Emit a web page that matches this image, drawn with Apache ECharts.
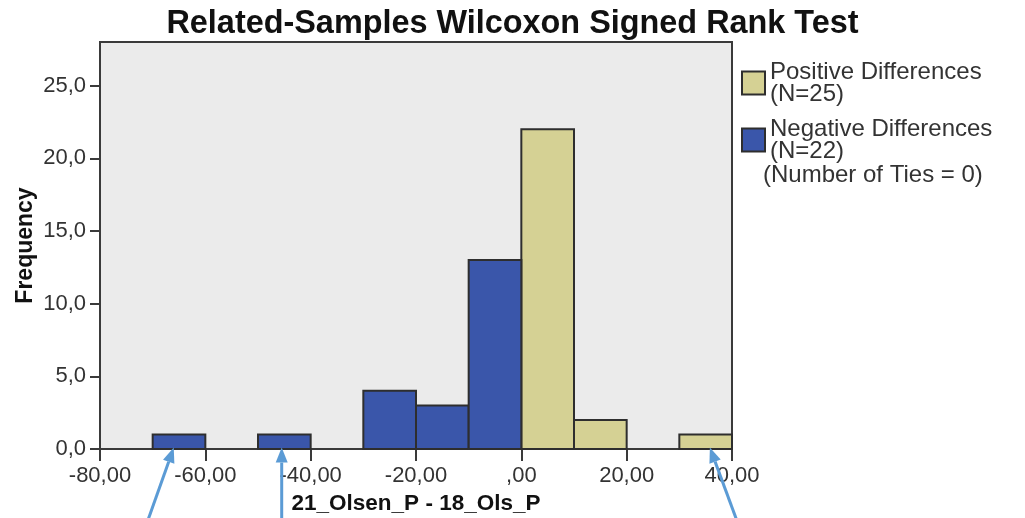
<!DOCTYPE html>
<html>
<head>
<meta charset="utf-8">
<script src="https://cdn.jsdelivr.net/npm/echarts@6/dist/echarts.min.js"></script>
<style>
  html, body { margin: 0; padding: 0; background: #fff; }
  #chart { width: 1025px; height: 518px; }
</style>
</head>
<body>
<div id="chart"></div>
<script>
// Histogram of paired differences (21_Olsen_P - 18_Ols_P), bin width 10
const binWidth = 10;
const negBinStarts = [-70, -50, -30, -20, -10];
const negCounts = [1, 1, 4, 3, 13];
const posBinStarts = [0, 10, 30];
const posCounts = [22, 2, 1];
const tiesCount = 0;

const yTicks = [0, 5, 10, 15, 20, 25];

// arrows pointing at the isolated bins: [tailX, tailY] -> [headX, headY] in data units
const arrowPairs = [
  [[-70.9, -4.9], [-66, 0.1]],
  [[-45.5, -4.9], [-45.5, 0.1]],
  [[40.9, -4.9], [35.8, 0.1]]
];

const posColor = '#d5d194';
const negColor = '#3a56aa';
const edgeColor = '#2e2e2e';
const textColor = '#333';

const sum = a => a.reduce((s, v) => s + v, 0);
const nPos = sum(posCounts);
const nNeg = sum(negCounts);

const posName = 'Positive Differences\n(N=' + nPos + ')';
const negName = 'Negative Differences\n(N=' + nNeg + ')';

function binData(starts, counts) {
  return starts.map((s, i) => [s, s + binWidth, counts[i]]);
}

function renderBin(params, api) {
  const p0 = api.coord([api.value(0), api.value(2)]);
  const p1 = api.coord([api.value(1), 0]);
  return {
    type: 'rect',
    shape: { x: p0[0], y: p0[1], width: p1[0] - p0[0], height: p1[1] - p0[1] },
    style: api.style({ stroke: edgeColor, lineWidth: 2 })
  };
}

function fmtX(v) {
  const s = Math.abs(v).toFixed(2).replace('.', ',');
  const t = Math.abs(v) < 1e-9 ? s.replace(/^0/, '') : s;
  return (v < 0 ? '-' : '') + t;
}

const chart = echarts.init(document.getElementById('chart'));
const baseFont = "'Liberation Sans', Arial, sans-serif";

chart.setOption({
  animation: false,
  title: {
    text: 'Related-Samples Wilcoxon Signed Rank Test',
    left: 'center',
    top: 3,
    textStyle: { fontFamily: baseFont, fontWeight: 'bold', fontSize: 32.4, color: '#111' }
  },
  legend: {
    orient: 'vertical',
    left: 736,
    top: 55,
    itemWidth: 23,
    itemHeight: 23,
    itemGap: 11,
    icon: 'rect',
    selectedMode: false,
    data: [posName, negName],
    textStyle: { fontFamily: baseFont, fontSize: 24, lineHeight: 22, color: textColor },
    itemStyle: { borderColor: edgeColor, borderWidth: 2 }
  },
  grid: {
    left: 100, right: 293, top: 42, bottom: 69,
    outerBoundsMode: 'none',
    show: true,
    backgroundColor: '#ebebeb',
    borderColor: '#3a3a3a',
    borderWidth: 2
  },
  xAxis: {
    type: 'value',
    min: -80, max: 40, interval: 20,
    name: '21_Olsen_P - 18_Ols_P',
    nameLocation: 'middle',
    nameGap: 43,
    nameMoveOverlap: false,
    nameTextStyle: { fontFamily: baseFont, fontWeight: 'bold', fontSize: 22.5, color: '#111' },
    axisLine: { onZero: false, lineStyle: { color: '#3a3a3a', width: 2 } },
    axisTick: { show: true, length: 12, lineStyle: { color: '#3a3a3a', width: 2 } },
    axisLabel: {
      fontFamily: baseFont, fontSize: 22, color: textColor, margin: 16,
      formatter: fmtX
    },
    splitLine: { show: false }
  },
  yAxis: {
    type: 'value',
    min: 0, max: 28, interval: 5,
    name: 'Frequency',
    nameLocation: 'middle',
    nameGap: 63,
    nameMoveOverlap: false,
    nameRotate: 90,
    nameTextStyle: { fontFamily: baseFont, fontWeight: 'bold', fontSize: 23, color: '#111' },
    axisLine: { show: true, onZero: false, lineStyle: { color: '#3a3a3a', width: 2 } },
    axisTick: { show: true, length: 10, customValues: yTicks, lineStyle: { color: '#3a3a3a', width: 2 } },
    axisLabel: {
      fontFamily: baseFont, fontSize: 22, color: textColor, margin: 14,
      customValues: yTicks,
      formatter: v => v.toFixed(1).replace('.', ',')
    },
    splitLine: { show: false }
  },
  series: [
    {
      name: posName,
      type: 'custom',
      renderItem: renderBin,
      itemStyle: { color: posColor, borderColor: edgeColor, borderWidth: 2 },
      encode: { x: [0, 1], y: 2 },
      data: binData(posBinStarts, posCounts)
    },
    {
      name: negName,
      type: 'custom',
      renderItem: renderBin,
      itemStyle: { color: negColor, borderColor: edgeColor, borderWidth: 2 },
      encode: { x: [0, 1], y: 2 },
      data: binData(negBinStarts, negCounts)
    }
  ]
});

// ties note under the legend and annotation arrows
function arrowGraphic(tail, head) {
  const a = chart.convertToPixel({ gridIndex: 0 }, tail);
  const b = chart.convertToPixel({ gridIndex: 0 }, head);
  const ang = Math.atan2(b[1] - a[1], b[0] - a[0]);
  const len = 15, half = 6;
  const bx = b[0] - len * Math.cos(ang), by = b[1] - len * Math.sin(ang);
  const nx = -Math.sin(ang) * half, ny = Math.cos(ang) * half;
  return [
    { type: 'line', shape: { x1: a[0], y1: a[1], x2: bx, y2: by },
      style: { stroke: '#5b9bd5', lineWidth: 3 }, z: 100 },
    { type: 'polygon', shape: { points: [[b[0], b[1]], [bx + nx, by + ny], [bx - nx, by - ny]] },
      style: { fill: '#5b9bd5' }, z: 100 }
  ];
}

const graphics = [
  { type: 'text', left: 763, top: 163,
    style: { text: '(Number of Ties = ' + tiesCount + ')', fontFamily: baseFont, fontSize: 24, fill: textColor } }
];
arrowPairs.forEach(p => graphics.push(...arrowGraphic(p[0], p[1])));
chart.setOption({ graphic: graphics });
</script>
</body>
</html>
